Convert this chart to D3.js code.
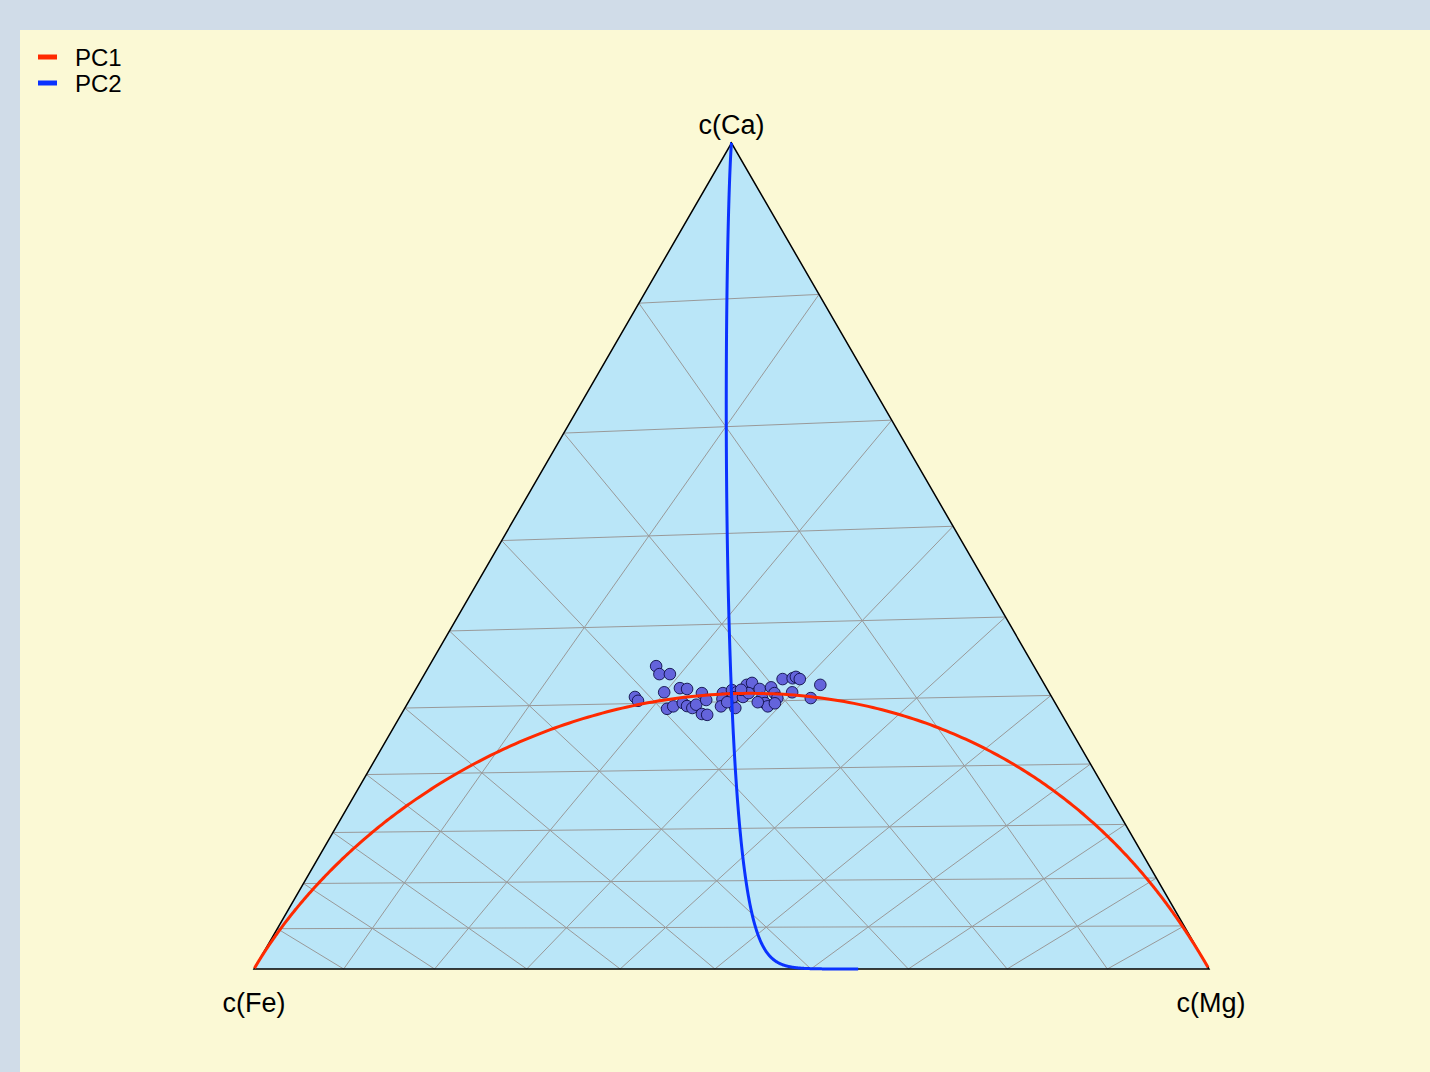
<!DOCTYPE html>
<html>
<head>
<meta charset="utf-8">
<script src="https://cdn.jsdelivr.net/npm/d3@7"></script>
<style>
  html, body { margin: 0; padding: 0; background: #d0dce8; }
  svg { display: block; }
  text { font-family: "Liberation Sans", Arial, Helvetica, sans-serif; fill: #000; }
</style>
</head>
<body>
<svg id="chart" width="1430" height="1072"></svg>
<script>
// parts in display order: Fe (left), Mg (right), Ca (top)
const parts = ["c(Fe)", "c(Mg)", "c(Ca)"];

// center of the data set (Fe, Mg, Ca); the plot is shown centered on it
const center = [0.236, 0.253, 0.511];

// grid levels of the raw composition
const gridLevels = [0.1, 0.2, 0.3, 0.4, 0.5, 0.6, 0.7, 0.8, 0.9];

// observations, already centered (shares of Fe, Mg, Ca)
const fe = [0.396, 0.397, 0.386, 0.436, 0.436, 0.403, 0.384, 0.377, 0.410, 0.402,
            0.390, 0.387, 0.383, 0.377, 0.364, 0.364, 0.377, 0.372, 0.342, 0.346,
            0.352, 0.331, 0.327, 0.338, 0.334, 0.323, 0.312, 0.305, 0.315, 0.301,
            0.304, 0.304, 0.303, 0.288, 0.288, 0.288, 0.294, 0.271, 0.260, 0.256,
            0.253, 0.269, 0.253, 0.235, 0.343, 0.311, 0.321];
const mg = [0.238, 0.246, 0.257, 0.234, 0.240, 0.262, 0.276, 0.284, 0.275, 0.280,
            0.288, 0.294, 0.301, 0.303, 0.302, 0.311, 0.315, 0.321, 0.324, 0.327,
            0.330, 0.332, 0.338, 0.346, 0.337, 0.347, 0.344, 0.348, 0.351, 0.360,
            0.368, 0.374, 0.379, 0.371, 0.378, 0.384, 0.385, 0.378, 0.388, 0.391,
            0.396, 0.396, 0.419, 0.421, 0.334, 0.366, 0.341];
const ca = [0.367, 0.357, 0.357, 0.329, 0.325, 0.335, 0.340, 0.339, 0.315, 0.318,
            0.322, 0.318, 0.316, 0.320, 0.334, 0.326, 0.309, 0.308, 0.334, 0.327,
            0.318, 0.338, 0.335, 0.316, 0.329, 0.329, 0.344, 0.346, 0.334, 0.339,
            0.328, 0.322, 0.318, 0.341, 0.334, 0.328, 0.322, 0.351, 0.352, 0.354,
            0.351, 0.335, 0.328, 0.344, 0.323, 0.323, 0.338];

// principal component directions (clr loadings for Fe, Mg, Ca) and line range
const pcNames = ["PC1", "PC2"];
const pcColors = ["#ff2a00", "#0a32ff"];
const pcLoadings = [[-0.721, 0.693, 0.028], [-0.379, -0.437, 0.816]];
const pcRange = [-9.37, 9.37];

const svg = d3.select("#chart");

svg.append("rect")
  .attr("x", 20).attr("y", 30)
  .attr("width", 1410).attr("height", 1042)
  .attr("fill", "#fbf9d5");

const x = d3.scaleLinear().domain([0, 1]).range([254, 1209]);
const y = d3.scaleLinear().domain([0, 1]).range([969, 143]);

function closeComp(c) {
  const s = c[0] + c[1] + c[2];
  return [c[0] / s, c[1] / s, c[2] / s];
}
// perturb a raw composition by the inverse of the center
function centerComp(c) {
  return closeComp([c[0] / center[0], c[1] / center[1], c[2] / center[2]]);
}
function project(c) {
  return [x(c[1] + c[2] / 2), y(c[2])];
}

const corners = [[1, 0, 0], [0, 1, 0], [0, 0, 1]].map(project);

svg.append("path")
  .attr("d", "M" + corners.join("L") + "Z")
  .attr("fill", "#bae6f8");

// grid: lines of constant raw portion, straight after centering
const gridLines = [];
for (let i = 0; i < 3; i++) {
  const j = (i + 1) % 3, k = (i + 2) % 3;
  gridLevels.forEach(v => {
    const a = [0, 0, 0], b = [0, 0, 0];
    a[i] = v; a[j] = 1 - v;
    b[i] = v; b[k] = 1 - v;
    gridLines.push([project(centerComp(a)), project(centerComp(b))]);
  });
}

svg.append("g")
  .selectAll("line")
  .data(gridLines)
  .join("line")
  .attr("x1", d => d[0][0]).attr("y1", d => d[0][1])
  .attr("x2", d => d[1][0]).attr("y2", d => d[1][1])
  .attr("stroke", "#999999")
  .attr("stroke-width", 1);

svg.append("path")
  .attr("d", "M" + corners.join("L") + "Z")
  .attr("fill", "none")
  .attr("stroke", "#000")
  .attr("stroke-width", 1.5);

// data points
const points = fe.map((d, i) => closeComp([fe[i], mg[i], ca[i]]));
svg.append("g")
  .selectAll("circle")
  .data(points)
  .join("circle")
  .attr("cx", d => project(d)[0])
  .attr("cy", d => project(d)[1])
  .attr("r", 5.8)
  .attr("fill", "#6464dc")
  .attr("stroke", "#10104a")
  .attr("stroke-width", 0.9);

// principal component lines through the (centered) mean
const line = d3.line().curve(d3.curveLinear);
const ts = d3.range(0, 801).map(i => pcRange[0] + (pcRange[1] - pcRange[0]) * i / 800);
pcLoadings.forEach((v, k) => {
  const pts = ts.map(t => project(closeComp(v.map(vi => Math.exp(t * vi)))));
  svg.append("path")
    .attr("d", line(pts))
    .attr("fill", "none")
    .attr("stroke", pcColors[k])
    .attr("stroke-width", 3);
});

// corner labels
const labelPos = [
  [corners[0][0], 1012],
  [corners[1][0] + 2, 1012],
  [corners[2][0], 134]
];
svg.append("g")
  .selectAll("text")
  .data(parts)
  .join("text")
  .attr("x", (d, i) => labelPos[i][0])
  .attr("y", (d, i) => labelPos[i][1])
  .attr("text-anchor", "middle")
  .attr("font-size", 27)
  .text(d => d);

// legend
const legend = svg.append("g")
  .selectAll("g")
  .data(pcNames)
  .join("g")
  .attr("transform", (d, i) => `translate(38, ${57 + i * 26})`);
legend.append("line")
  .attr("x1", 0).attr("x2", 19)
  .attr("stroke", (d, i) => pcColors[i])
  .attr("stroke-width", 5);
legend.append("text")
  .attr("x", 37).attr("y", 8.5)
  .attr("font-size", 24)
  .text(d => d);
</script>
</body>
</html>
